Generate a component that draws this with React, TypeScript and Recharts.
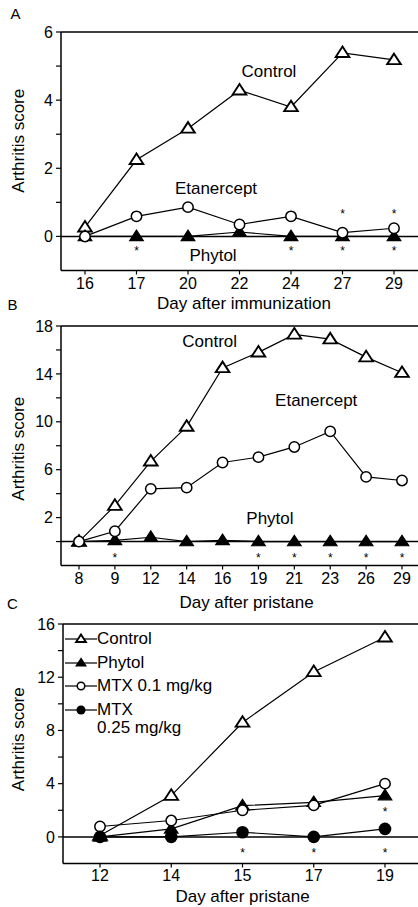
import React from "react";
import { LineChart, Line, XAxis, YAxis, ReferenceLine, ReferenceDot, Legend } from "recharts";

const FONT = "'Liberation Sans', Arial, Helvetica, sans-serif";

// Panel A: day after immunization
const daysA = [16, 17, 20, 22, 24, 27, 29];
const controlA = [0.27, 2.25, 3.17, 4.29, 3.8, 5.39, 5.18];
const phytolA = [0, 0, 0, 0.13, 0, 0, 0];
const etanerceptA = [0, 0.59, 0.86, 0.35, 0.59, 0.11, 0.24];
const starsBelowA = [17, 24, 27, 29];
const starsAboveA = [27, 29];
const ticksA = [0, 1, 2, 3, 4, 5, 6];

// Panel B: day after pristane
const daysB = [8, 9, 12, 14, 16, 19, 21, 23, 26, 29];
const controlB = [0, 3.0, 6.7, 9.6, 14.5, 15.8, 17.3, 16.9, 15.4, 14.1];
const phytolB = [0, 0.1, 0.36, 0, 0.1, 0, 0, 0, 0, 0];
const etanerceptB = [0, 0.86, 4.4, 4.5, 6.6, 7.05, 7.9, 9.2, 5.4, 5.1];
const starsBelowB = [9, 19, 21, 23, 26, 29];
const ticksB = [0, 2, 4, 6, 8, 10, 12, 14, 16, 18];

// Panel C: day after pristane, MTX
const daysC = [12, 14, 15, 17, 19];
const controlC = [0.1, 3.1, 8.6, 12.4, 15.0];
const phytolC = [0, 0.6, 2.35, 2.6, 3.1];
const mtx01C = [0.78, 1.23, 2.0, 2.37, 4.0];
const mtx025C = [0, 0, 0.35, 0, 0.6];
const starsBelowC = [15, 17, 19];
const starsAboveC = [19];
const ticksC = [0, 2, 4, 6, 8, 10, 12, 14, 16];

const dataA = daysA.map((day, i) => ({ day, control: controlA[i], phytol: phytolA[i], etanercept: etanerceptA[i] }));
const dataB = daysB.map((day, i) => ({ day, control: controlB[i], phytol: phytolB[i], etanercept: etanerceptB[i] }));
const dataC = daysC.map((day, i) => ({ day, control: controlC[i], phytol: phytolC[i], mtx01: mtx01C[i], mtx025: mtx025C[i] }));

type Kind = "triOpen" | "triFill" | "circOpen" | "circFill";

function Marker({ kind, cx, cy, s = 1 }: { kind: Kind; cx: number; cy: number; s?: number }) {
  if (kind === "triOpen" || kind === "triFill") {
    const pts = `${cx},${cy - 6.3 * s} ${cx - 6.8 * s},${cy + 4.2 * s} ${cx + 6.8 * s},${cy + 4.2 * s}`;
    return kind === "triOpen" ? (
      <polygon points={pts} fill="#fff" stroke="#000" strokeWidth={1.9} />
    ) : (
      <polygon points={pts} fill="#000" stroke="#000" strokeWidth={1.2} />
    );
  }
  if (kind === "circOpen") return <circle cx={cx} cy={cy} r={5.2 * s} fill="#fff" stroke="#000" strokeWidth={1.5} />;
  return <circle cx={cx} cy={cy} r={6.3 * s} fill="#000" />;
}

const dotOf = (kind: Kind) => (p: any) => <Marker key={p.index} kind={kind} cx={p.cx} cy={p.cy} />;

const textShape = (label: string, dx: number) => (p: any) => (
  <text x={p.cx + dx} y={p.cy} textAnchor="middle" dominantBaseline="central" fontSize={17} fontFamily={FONT} fill="#000">
    {label}
  </text>
);

const starShape = (p: any) => (
  <text x={p.cx} y={p.cy + 6.8} textAnchor="middle" fontSize={12} fontFamily={FONT} fill="#000">
    *
  </text>
);

const yLabel = (shift: number) => ({ viewBox }: any) => {
  const cx = 18.5;
  const cy = viewBox.y + viewBox.height / 2 + shift;
  return (
    <text x={cx} y={cy} transform={`rotate(-90 ${cx} ${cy})`} textAnchor="middle" dominantBaseline="central" fontSize={17} fontFamily={FONT} fill="#000">
      Arthritis score
    </text>
  );
};

const xLabel = (label: string, shift: number) => ({ viewBox }: any) => (
  <text x={viewBox.x + viewBox.width / 2 + shift} y={viewBox.y + viewBox.height} textAnchor="middle" fontSize={17} fontFamily={FONT} fill="#000">
    {label}
  </text>
);

const tickStyle = { fontSize: 16, fill: "#000", fontFamily: FONT };
const axisStyle = { stroke: "#000", strokeWidth: 1.5 };
const tickLineStyle = { stroke: "#000", strokeWidth: 1.2 };

const lineProps = { stroke: "#000", strokeWidth: 1.2, isAnimationActive: false, activeDot: false as const, type: "linear" as const };

const kindsC: Record<string, Kind> = { control: "triOpen", phytol: "triFill", mtx01: "circOpen", mtx025: "circFill" };
const orderC = ["control", "phytol", "mtx01", "mtx025"];

const LegendC = ({ payload }: any) => {
  const items = [...(payload || [])].sort((a: any, b: any) => orderC.indexOf(a.dataKey) - orderC.indexOf(b.dataKey));
  return (
    <div style={{ fontFamily: FONT, fontSize: 17, color: "#000" }}>
      {items.map((e: any) => (
        <div key={e.dataKey} style={{ display: "flex", alignItems: "flex-start", lineHeight: "18px", marginBottom: 5.7 }}>
          <svg width={32} height={18} style={{ flex: "none" }}>
            <line x1={0} y1={9} x2={32} y2={9} stroke="#000" strokeWidth={1.2} />
            <Marker kind={kindsC[e.dataKey]} cx={16} cy={9} s={0.72} />
          </svg>
          <span style={{ whiteSpace: "pre-line" }}>{e.value}</span>
        </div>
      ))}
    </div>
  );
};

export default function App() {
  return (
    <div style={{ position: "absolute", left: 0, top: 0, width: 418, height: 907, background: "#fff" }}>
      <svg width={418} height={907} style={{ position: "absolute", left: 0, top: 0 }}>
        <text x={15.5} y={18.5} textAnchor="middle" fontSize={15} fontFamily={FONT}>A</text>
        <text x={12.5} y={309.5} textAnchor="middle" fontSize={15} fontFamily={FONT}>B</text>
        <text x={12.5} y={608.5} textAnchor="middle" fontSize={15} fontFamily={FONT}>C</text>
      </svg>

      <div style={{ position: "absolute", left: 0, top: 0 }}>
        <LineChart width={418} height={315} data={dataA} margin={{ top: 32, right: 0, bottom: 6, left: 0 }}>
          <XAxis dataKey="day" interval={0} height={38.5} padding={{ left: 24, right: 24 }} tick={tickStyle} tickSize={4} tickMargin={3.5} axisLine={axisStyle} tickLine={tickLineStyle} label={{ content: xLabel("Day after immunization", 4.5) }} />
          <YAxis type="number" width={61} domain={[-1, 6]} ticks={ticksA} interval={0} tickFormatter={(v: number) => (v % 2 === 0 ? String(v) : "")} tick={tickStyle} tickSize={5} tickMargin={3} axisLine={axisStyle} tickLine={tickLineStyle} label={{ content: yLabel(-10.5) }} />
          <ReferenceLine y={6} stroke="#000" strokeWidth={1.5} />
          <ReferenceLine y={0} stroke="#000" strokeWidth={1.5} />
          <Line dataKey="control" name="Control" {...lineProps} dot={dotOf("triOpen")} />
          <Line dataKey="phytol" name="Phytol" {...lineProps} dot={dotOf("triFill")} />
          <Line dataKey="etanercept" name="Etanercept" {...lineProps} dot={dotOf("circOpen")} />
          <ReferenceDot x={22} y={4.85} r={0} shape={textShape("Control", 29.5)} />
          <ReferenceDot x={20} y={1.41} r={0} shape={textShape("Etanercept", 28)} />
          <ReferenceDot x={20} y={-0.56} r={0} shape={textShape("Phytol", 25)} />
          {starsBelowA.map((d) => <ReferenceDot key={`ab${d}`} x={d} y={-0.35} r={0} shape={starShape} />)}
          {starsAboveA.map((d) => <ReferenceDot key={`aa${d}`} x={d} y={0.73} r={0} shape={starShape} />)}
        </LineChart>
      </div>

      <div style={{ position: "absolute", left: 0, top: 294 }}>
        <LineChart width={418} height={320} data={dataB} margin={{ top: 32, right: 0, bottom: 6, left: 0 }}>
          <XAxis dataKey="day" interval={0} height={42.5} padding={{ left: 18, right: 16 }} tick={tickStyle} tickSize={4} tickMargin={3.5} axisLine={axisStyle} tickLine={tickLineStyle} label={{ content: xLabel("Day after pristane", 7) }} />
          <YAxis type="number" width={61} domain={[-2, 18]} ticks={ticksB} interval={0} tickFormatter={(v: number) => (v % 4 === 2 ? String(v) : "")} tick={tickStyle} tickSize={5} tickMargin={3} axisLine={axisStyle} tickLine={tickLineStyle} label={{ content: yLabel(3) }} />
          <ReferenceLine y={18} stroke="#000" strokeWidth={1.5} />
          <ReferenceLine y={0} stroke="#000" strokeWidth={1.5} />
          <Line dataKey="control" name="Control" {...lineProps} dot={dotOf("triOpen")} />
          <Line dataKey="phytol" name="Phytol" {...lineProps} dot={dotOf("triFill")} />
          <Line dataKey="etanercept" name="Etanercept" {...lineProps} dot={dotOf("circOpen")} />
          <ReferenceDot x={14} y={16.7} r={0} shape={textShape("Control", 23)} />
          <ReferenceDot x={23} y={11.8} r={0} shape={textShape("Etanercept", -14)} />
          <ReferenceDot x={19} y={1.9} r={0} shape={textShape("Phytol", 11.5)} />
          {starsBelowB.map((d) => <ReferenceDot key={`bb${d}`} x={d} y={-1.17} r={0} shape={starShape} />)}
        </LineChart>
      </div>

      <div style={{ position: "absolute", left: 0, top: 592 }}>
        <LineChart width={418} height={315} data={dataC} margin={{ top: 32, right: 0, bottom: 5, left: 0 }}>
          <XAxis dataKey="day" interval={0} height={38.5} padding={{ left: 37, right: 33 }} tick={tickStyle} tickSize={4} tickMargin={2.5} axisLine={axisStyle} tickLine={tickLineStyle} label={{ content: xLabel("Day after pristane", 2) }} />
          <YAxis type="number" width={63} domain={[-2, 16]} ticks={ticksC} interval={0} tickFormatter={(v: number) => (v % 4 === 0 ? String(v) : "")} tick={tickStyle} tickSize={5} tickMargin={3} axisLine={axisStyle} tickLine={tickLineStyle} label={{ content: yLabel(-4.5) }} />
          <ReferenceLine y={16} stroke="#000" strokeWidth={1.5} />
          <ReferenceLine y={0} stroke="#000" strokeWidth={1.5} />
          <Legend layout="vertical" align="center" verticalAlign="middle" wrapperStyle={{ top: 38, left: 65 }} content={<LegendC />} />
          <Line dataKey="control" name="Control" {...lineProps} dot={dotOf("triOpen")} />
          <Line dataKey="phytol" name="Phytol" {...lineProps} dot={dotOf("triFill")} />
          <Line dataKey="mtx01" name="MTX 0.1 mg/kg" {...lineProps} dot={dotOf("circOpen")} />
          <Line dataKey="mtx025" name={"MTX\n0.25 mg/kg"} {...lineProps} dot={dotOf("circFill")} />
          {starsBelowC.map((d) => <ReferenceDot key={`cb${d}`} x={d} y={-1.02} r={0} shape={starShape} />)}
          {starsAboveC.map((d) => <ReferenceDot key={`ca${d}`} x={d} y={2.06} r={0} shape={starShape} />)}
        </LineChart>
      </div>
    </div>
  );
}
